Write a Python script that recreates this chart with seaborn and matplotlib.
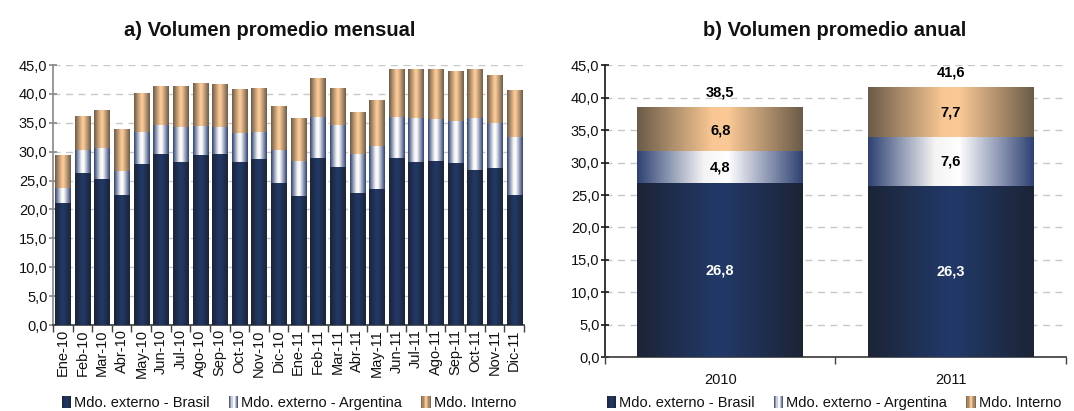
import numpy as np
import matplotlib
matplotlib.use("Agg")
import matplotlib.pyplot as plt
import seaborn as sns
from matplotlib.colors import LinearSegmentedColormap
from matplotlib.patches import Rectangle
from matplotlib.legend_handler import HandlerBase
from matplotlib.ticker import FuncFormatter, MultipleLocator

# datos mensuales
meses = ["Ene-10", "Feb-10", "Mar-10", "Abr-10", "May-10", "Jun-10", "Jul-10", "Ago-10",
         "Sep-10", "Oct-10", "Nov-10", "Dic-10", "Ene-11", "Feb-11", "Mar-11", "Abr-11",
         "May-11", "Jun-11", "Jul-11", "Ago-11", "Sep-11", "Oct-11", "Nov-11", "Dic-11"]
brasil = [21.0, 26.2, 25.2, 22.4, 27.8, 29.5, 28.1, 29.3, 29.5, 28.1, 28.6, 24.5,
          22.2, 28.8, 27.2, 22.7, 23.4, 28.8, 28.1, 28.3, 27.9, 26.7, 27.1, 22.4]
argentina = [2.6, 4.0, 5.3, 4.1, 5.5, 5.0, 6.1, 5.0, 4.7, 5.0, 4.7, 5.7,
             6.1, 7.1, 7.3, 6.8, 7.5, 7.1, 7.6, 7.2, 7.3, 9.0, 7.8, 10.0]
interno = [5.7, 5.9, 6.6, 7.3, 6.7, 6.8, 7.1, 7.5, 7.4, 7.6, 7.6, 7.6,
           7.4, 6.7, 6.4, 7.3, 7.9, 8.3, 8.5, 8.7, 8.7, 8.5, 8.3, 8.2]

# datos anuales
anios = ["2010", "2011"]
brasil_anual = [26.8, 26.3]
argentina_anual = [4.8, 7.6]
interno_anual = [6.8, 7.7]
total_anual = [38.5, 41.6]

series = ["Mdo. externo - Brasil", "Mdo. externo - Argentina", "Mdo. Interno"]

cm_brasil = LinearSegmentedColormap.from_list(
    "brasil", [(0, "#1C2436"), (0.5, "#223A6A"), (1, "#1C2436")])
cm_arg = LinearSegmentedColormap.from_list(
    "arg", [(0, "#2F4274"), (0.4, "#F4F4F4"), (0.55, "#FFFFFF"), (1, "#2F4274")])
cm_int = LinearSegmentedColormap.from_list(
    "int", [(0, "#6B5B48"), (0.45, "#F8C793"), (0.55, "#FAC996"), (1, "#6B5B48")])
cmaps = [cm_brasil, cm_arg, cm_int]

sns.set_theme(style="white")
plt.rcParams["font.family"] = ["Liberation Sans", "DejaVu Sans"]
plt.rcParams["text.color"] = "#111111"
plt.rcParams["xtick.color"] = "#111111"
plt.rcParams["ytick.color"] = "#111111"

FS = 10.5
fmt = FuncFormatter(lambda v, p: f"{v:.1f}".replace(".", ","))
grad = np.linspace(0, 1, 128).reshape(1, -1)


def pintar(ax, container, cmap, z):
    for p in container:
        x0, y0 = p.get_x(), p.get_y()
        w, h = p.get_width(), p.get_height()
        ax.imshow(grad, cmap=cmap, extent=[x0, x0 + w, y0, y0 + h],
                  aspect="auto", zorder=z, interpolation="bilinear")
        p.set_visible(False)


def apiladas(ax, cats, b, a, i, width):
    b = np.array(b)
    a = np.array(a)
    i = np.array(i)
    niveles = [b + a + i, b + a, b]
    for k, (vals, cm) in enumerate(zip(niveles, [cm_int, cm_arg, cm_brasil])):
        sns.barplot(x=cats, y=vals, ax=ax, width=width, errorbar=None, color="grey")
        pintar(ax, ax.containers[k], cm, 2 + k)


def estilo(ax, n, spine):
    ax.set_xlim(-0.5, n - 0.5)
    ax.set_ylim(0, 45)
    ax.yaxis.set_major_locator(MultipleLocator(5))
    ax.yaxis.set_major_formatter(fmt)
    ax.yaxis.grid(True, ls=(0, (5, 4)), color="#C8C8C8", lw=1)
    ax.set_axisbelow(True)
    sns.despine(ax=ax)
    ax.spines["left"].set_color(spine)
    ax.spines["bottom"].set_color("#404040")
    ax.set_xticks(np.arange(-0.5, n, 1), minor=True)
    ax.tick_params(axis="x", which="major", length=0)
    ax.tick_params(axis="x", which="minor", length=5, direction="out", color="#404040",
                   bottom=True)
    ax.tick_params(axis="y", length=6, direction="inout", color=spine, left=True,
                   labelsize=FS, pad=1)
    ax.set_xlabel("")
    ax.set_ylabel("")


class GradHandler(HandlerBase):
    def __init__(self, cmap):
        super().__init__()
        self.cmap = cmap

    def create_artists(self, legend, orig_handle, xdescent, ydescent, width, height,
                       fontsize, trans):
        n = 8
        arts = []
        for k in range(n):
            arts.append(Rectangle((-xdescent + k * width / n, -ydescent), width / n, height,
                                  facecolor=self.cmap((k + 0.5) / n), edgecolor="none",
                                  transform=trans))
        return arts


def leyenda(fig, x, y):
    handles = [Rectangle((0, 0), 1, 1) for _ in series]
    fig.legend(handles, series, loc="center", bbox_to_anchor=(x, y), ncol=3,
               frameon=False, fontsize=FS, handlelength=0.65, handleheight=0.95,
               handletextpad=0.2, columnspacing=1.3,
               handler_map={h: GradHandler(c) for h, c in zip(handles, cmaps)})


fig = plt.figure(figsize=(10.74, 4.11), dpi=100)
ax1 = fig.add_axes([0.0493, 0.2092, 0.4385, 0.6326])
ax2 = fig.add_axes([0.5633, 0.1307, 0.4292, 0.7105])

# a) mensual
apiladas(ax1, meses, brasil, argentina, interno, 0.77)
estilo(ax1, len(meses), "#8C8C8C")
ax1.tick_params(axis="x", which="major", labelrotation=90, labelsize=FS, pad=3)

# b) anual
apiladas(ax2, anios, brasil_anual, argentina_anual, interno_anual, 0.72)
estilo(ax2, len(anios), "#202020")
ax2.tick_params(axis="x", which="major", labelsize=FS, pad=11)
for k in range(len(anios)):
    b, a, i = brasil_anual[k], argentina_anual[k], interno_anual[k]
    ax2.text(k, b / 2, f"{b:.1f}".replace(".", ","), ha="center", va="center",
             color="white", fontweight="bold", fontsize=FS, zorder=6)
    ax2.text(k, b + a / 2, f"{a:.1f}".replace(".", ","), ha="center", va="center",
             color="black", fontweight="bold", fontsize=FS, zorder=6)
    ax2.text(k, b + a + i / 2, f"{i:.1f}".replace(".", ","), ha="center", va="center",
             color="black", fontweight="bold", fontsize=FS, zorder=6)
    ax2.annotate(f"{total_anual[k]:.1f}".replace(".", ","), (k, b + a + i),
                 xytext=(0, 11), textcoords="offset points", ha="center", va="center",
                 color="black", fontweight="bold", fontsize=FS)

titulo = dict(fontsize=14.5, fontweight="bold", ha="center", va="center",
              family=["Liberation Sans", "DejaVu Sans"])
fig.text(270 / 1074, 1 - 30 / 411, "a) Volumen promedio mensual", **titulo)
fig.text(835 / 1074, 1 - 30 / 411, "b) Volumen promedio anual", **titulo)

leyenda(fig, 289 / 1074, 1 - 403 / 411)
leyenda(fig, 834 / 1074, 1 - 403 / 411)

fig.savefig("out.png", dpi=100)
